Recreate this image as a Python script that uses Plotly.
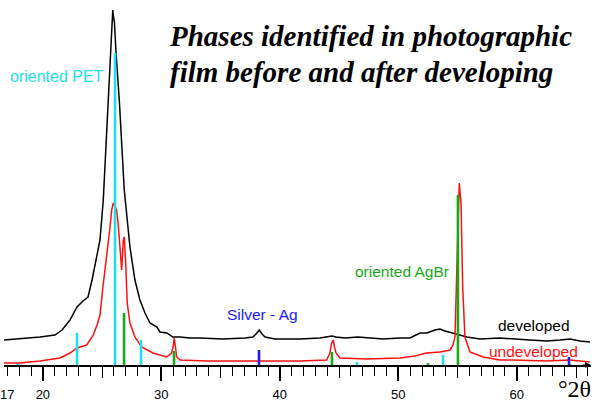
import plotly.graph_objects as go

# ---- data (2theta in degrees, intensity in arbitrary units) ----
dev_x = [16.72, 18.07, 19.76, 21.02, 21.62, 22.29, 22.88, 23.39, 23.81, 24.15, 24.48, 24.82,
         25.10, 25.53, 25.75, 25.90, 25.96, 26.04, 26.17, 26.45, 26.87, 27.07, 27.35, 27.77,
         28.19, 28.62, 29.04, 29.63, 29.88, 30.47, 30.97, 31.57, 32.42, 33.26, 35.20, 37.06,
         37.73, 37.99, 38.27, 38.50, 38.75, 39.59, 40.86, 41.70, 43.39, 44.06, 44.40, 44.74,
         45.50, 46.60, 47.61, 48.70, 50.14, 50.98, 51.83, 52.42, 53.09, 53.51, 53.94, 54.61,
         55.79, 56.89, 58.58, 61.11, 62.55, 63.65, 64.49, 65.33, 66.17]
dev_y = [27, 28, 30, 32, 37, 47, 60, 66, 70, 87, 107, 127,
         167, 267, 330, 357, 350, 345, 315, 267, 177, 154, 120, 87,
         67, 54, 44, 40, 35, 34, 30, 30, 29, 29, 28, 29,
         30, 33, 37, 33, 30, 28, 28, 28, 29, 30, 31, 30,
         29, 30, 29, 28, 29, 29, 34, 34, 37, 38, 36, 34,
         30, 28, 29, 27, 26, 27, 28, 26, 25]

undev_x = [16.72, 18.07, 19.76, 21.45, 22.29, 22.88, 23.70, 24.26, 24.57, 24.82, 25.07, 25.24,
           25.52, 25.67, 25.81, 25.94, 26.09, 26.23, 26.38, 26.51, 26.65, 26.79, 26.87, 26.99,
           27.12, 27.35, 27.77, 28.34, 29.29, 30.45, 30.87, 31.02, 31.09, 31.19, 31.29, 31.57,
           33.83, 38.05, 41.70, 43.95, 44.23, 44.37, 44.51, 44.61, 44.74, 45.07, 47.33, 50.14,
           51.40, 52.39, 53.51, 54.36, 54.61, 54.78, 54.92, 55.06, 55.14, 55.29, 55.43, 55.62,
           56.04, 57.17, 58.58, 59.67, 62.55, 64.49, 66.17]
undev_y = [4, 4, 6, 9, 14, 19, 22, 32, 42, 52, 80, 95,
           125, 140, 157, 164, 160, 157, 140, 120, 97, 127, 130, 104,
           64, 44, 30, 20, 14, 10, 14, 22, 29, 20, 10, 7,
           6, 6, 6, 7, 14, 24, 27, 20, 14, 9, 8, 9,
           11, 14, 15, 17, 22, 30, 97, 170, 184, 164, 80, 30,
           15, 10, 7, 7, 6, 7, 5]

pet_pos = [17.90, 22.88, 26.09, 28.28, 46.51, 53.77]
pet_int = [3, 34, 314, 27, 5, 12]
agbr_pos = [26.85, 31.07, 44.40, 52.50, 55.03, 64.49]
agbr_int = [54, 16, 15, 4, 172, 3]
ag_pos = [38.24, 64.40]
ag_int = [17, 10]

tick_vals = [17, 20, 30, 40, 50, 60]
major_ticks = [20, 30, 40, 50, 60]
mid_ticks = [25, 35, 45, 55, 65]

X_RANGE = [16.72, 66.26]
Y_RANGE = [2, 367]

FONT = "Liberation Sans, Arial, sans-serif"
SERIF = "Liberation Serif, Times New Roman, serif"
CYAN = "#1EE0E8"
GREEN = "#18A818"
BLUE = "#1A1AF0"
RED = "#FF1010"


def sticks(pos, inten):
    xs, ys = [], []
    for p, h in zip(pos, inten):
        xs += [p, p, None]
        ys += [0, h, None]
    return xs, ys


fig = go.Figure()
fig.add_trace(go.Scatter(x=dev_x, y=dev_y, mode="lines",
                         line=dict(color="black", width=1.5), hoverinfo="skip"))
fig.add_trace(go.Scatter(x=undev_x, y=undev_y, mode="lines",
                         line=dict(color=RED, width=1.5), hoverinfo="skip"))
for pos, inten, col in [(pet_pos, pet_int, CYAN), (agbr_pos, agbr_int, GREEN), (ag_pos, ag_int, BLUE)]:
    sx, sy = sticks(pos, inten)
    fig.add_trace(go.Scatter(x=sx, y=sy, mode="lines",
                             line=dict(color=col, width=2.6), hoverinfo="skip"))

# invisible traces to bind overlay axes
fig.add_trace(go.Scatter(x=[X_RANGE[0]], y=[Y_RANGE[0]], xaxis="x2", mode="markers",
                         marker=dict(opacity=0), hoverinfo="skip"))
fig.add_trace(go.Scatter(x=[X_RANGE[0]], y=[Y_RANGE[0]], xaxis="x3", mode="markers",
                         marker=dict(opacity=0), hoverinfo="skip"))

W, H = 592, 403
L, R, T, B = 4, 1, 0, 38
pw, ph = W - L - R, H - T - B


def px(x):
    return (x - L) / pw


def py(y):
    return (H - B - y) / ph


fig.update_layout(
    width=W, height=H,
    margin=dict(l=L, r=R, t=T, b=B),
    paper_bgcolor="white", plot_bgcolor="white",
    showlegend=False,
    xaxis=dict(range=X_RANGE, showline=True, linecolor="black", linewidth=1.5,
               ticks="outside", tickvals=tick_vals, ticklen=9, tickwidth=1.2, tickcolor="black",
               minor=dict(dtick=1, tick0=0, ticks="outside", ticklen=9, tickwidth=1.2, tickcolor="black"),
               tickfont=dict(family=FONT, size=13, color="black"),
               ticklabelstandoff=8,
               showgrid=False, zeroline=False, fixedrange=True),
    xaxis2=dict(range=X_RANGE, overlaying="x", anchor="y", side="bottom",
                ticks="outside", tickvals=major_ticks, ticklen=15, tickwidth=1.5, tickcolor="black",
                showticklabels=False, showline=False, showgrid=False, zeroline=False),
    xaxis3=dict(range=X_RANGE, overlaying="x", anchor="y", side="bottom",
                ticks="outside", tickvals=mid_ticks, ticklen=12, tickwidth=1.2, tickcolor="black",
                showticklabels=False, showline=False, showgrid=False, zeroline=False),
    yaxis=dict(range=Y_RANGE, visible=False, fixedrange=True),
)

ann = [
    dict(text="<b><i>Phases identified in photographic</i></b>", x=px(167), y=py(36),
         xanchor="left", yanchor="middle", font=dict(family=SERIF, size=29, color="black")),
    dict(text="<b><i>film before and after developing</i></b>", x=px(168), y=py(72),
         xanchor="left", yanchor="middle", font=dict(family=SERIF, size=29, color="black")),
    dict(text="oriented PET", x=px(56.5), y=py(76), font=dict(family=FONT, size=16, color=CYAN)),
    dict(text="Silver - Ag", x=px(262), y=py(314), font=dict(family=FONT, size=15.5, color=BLUE)),
    dict(text="oriented AgBr", x=px(402), y=py(271), font=dict(family=FONT, size=15.5, color=GREEN)),
    dict(text="developed", x=px(534), y=py(325), font=dict(family=FONT, size=15.5, color="black")),
    dict(text="undeveloped", x=px(533), y=py(351), font=dict(family=FONT, size=15.5, color=RED)),
    dict(text="°2θ", x=px(574), y=py(389), font=dict(family=SERIF, size=24, color="black")),
]
for a in ann:
    a.setdefault("xanchor", "center")
    a.setdefault("yanchor", "middle")
    fig.add_annotation(xref="paper", yref="paper", showarrow=False, **a)

# arrow at the end of the axis
fig.add_annotation(xref="paper", yref="paper", x=1.0, y=0, ax=-10, ay=0, text="",
                   showarrow=True, arrowhead=2, arrowsize=1, arrowwidth=1.2, arrowcolor="black")

fig.write_html("out.html", config=dict(displayModeBar=False),
               post_script="document.body.style.margin='0';document.body.style.overflow='hidden';")
